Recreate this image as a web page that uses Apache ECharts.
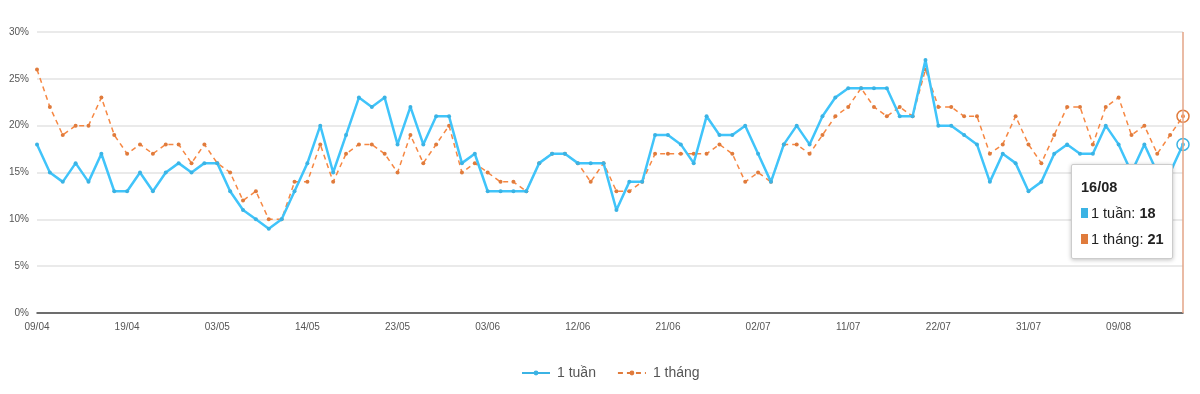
<!DOCTYPE html>
<html>
<head>
<meta charset="utf-8">
<script src="https://cdn.jsdelivr.net/npm/echarts@6/dist/echarts.min.js"></script>
<style>
html,body{margin:0;padding:0;background:#fff;}
#chart{width:1200px;height:394px;}
</style>
</head>
<body>
<div id="chart"></div>
<script>
const dates = [
 '09/04','10/04','11/04','12/04','15/04','16/04','17/04','19/04','22/04','23/04','24/04','25/04','26/04',
 '02/05','03/05','06/05','07/05','08/05','09/05','10/05','13/05','14/05','15/05','16/05','17/05','20/05','21/05','22/05','23/05','24/05','27/05','28/05','29/05','30/05','31/05',
 '03/06','04/06','05/06','06/06','07/06','10/06','11/06','12/06','13/06','14/06','17/06','18/06','19/06','20/06','21/06','24/06','25/06','26/06','27/06','28/06',
 '01/07','02/07','03/07','04/07','05/07','08/07','09/07','10/07','11/07','12/07','15/07','16/07','17/07','18/07','19/07','22/07','23/07','24/07','25/07','26/07','29/07','30/07','31/07',
 '01/08','02/08','05/08','06/08','07/08','08/08','09/08','12/08','13/08','14/08','15/08','16/08'
];
const week = [
 18,15,14,16,14,17,13,13,15,13,15,16,15,16,16,
 13,11,10,9,10,13,16,20,15,19,23,22,23,18,22,
 18,21,21,16,17,13,13,13,13,16,17,17,16,16,
 16,11,14,14,19,19,18,16,21,19,19,20,17,14,18,
 20,18,21,23,24,24,24,24,21,21,27,20,20,19,18,
 14,17,16,13,14,17,18,17,17,20,18,15,18,15,15,18
];
const month = [
 26,22,19,20,20,23,19,17,18,17,18,18,16,18,16,
 15,12,13,10,10,14,14,18,14,17,18,18,17,15,19,
 16,18,20,15,16,15,14,14,13,16,17,17,16,14,
 16,13,13,14,17,17,17,17,17,18,17,14,15,14,18,
 18,17,19,21,22,24,22,21,22,21,26,22,22,21,21,
 17,18,21,18,16,19,22,22,18,22,23,19,20,17,19,21
];
const seriesNames = ['1 tuần','1 tháng'];
const yTicks = [0,5,10,15,20,25,30];

const BLUE = '#3bb3e4';
const ORANGE = '#e07b3c';
const last = dates.length - 1;

const chart = echarts.init(document.getElementById('chart'), null, {renderer:'canvas'});
chart.setOption({
  animation:false,
  textStyle:{fontFamily:'Liberation Sans, Arial, sans-serif'},
  grid:{left:37,right:17,top:32,bottom:81,containLabel:false},
  legend:{
    bottom:9,left:516,
    itemWidth:28,itemHeight:6,itemGap:21,
    textStyle:{fontSize:14,color:'#555',fontFamily:'Liberation Sans, Arial, sans-serif',padding:[0,0,0,2]},
    data:seriesNames
  },
  tooltip:{
    trigger:'axis',
    alwaysShowContent:true,
    backgroundColor:'#fff',
    borderColor:'#ccc',
    borderWidth:1,
    padding:[9,8,6,9],
    extraCssText:'box-shadow:0 1px 4px rgba(0,0,0,0.25);border-radius:2px;',
    position:function(){return [1071,164];},
    axisPointer:{type:'line',lineStyle:{color:'#e3a487',width:1.5,type:'solid'}},
    formatter:function(params){
      let s = '<div style="font-family:Liberation Sans,Arial,sans-serif;color:#222;font-size:14.5px;line-height:26px">';
      s += '<div style="font-weight:bold">'+params[0].name+'</div>';
      params.forEach(function(p){
        s += '<div><span style="display:inline-block;width:7px;height:10px;margin-right:3px;background:'+p.color+'"></span>'+p.seriesName+': <b>'+p.value+'</b></div>';
      });
      s += '</div>';
      return s;
    }
  },
  xAxis:{
    type:'category',
    data:dates,
    boundaryGap:false,
    axisLine:{show:true,lineStyle:{color:'#444',width:1.5}},
    axisTick:{show:false},
    axisLabel:{interval:6,color:'#555',fontSize:10,margin:9},
    splitLine:{show:false}
  },
  yAxis:{
    type:'value',
    min:yTicks[0],max:yTicks[yTicks.length-1],interval:5,
    axisLine:{show:false},
    axisTick:{show:false},
    axisLabel:{color:'#555',fontSize:10,margin:8,formatter:'{value}%'},
    splitLine:{lineStyle:{color:'#e3e3e3',width:1.5}}
  },
  series:[
    {
      name:seriesNames[0],type:'line',data:week,
      color:BLUE,
      symbol:'circle',symbolSize:4,
      lineStyle:{width:2.5,color:BLUE},
      itemStyle:{color:BLUE},
      emphasis:{scale:false},
      clip:false,
      markPoint:{
        symbol:'circle',symbolSize:12,
        itemStyle:{color:'rgba(255,255,255,0)',borderColor:BLUE,borderWidth:1.5},
        label:{show:false},
        data:[{coord:[dates[last],week[last]]}]
      },
      z:3
    },
    {
      name:seriesNames[1],type:'line',data:month,
      color:ORANGE,
      symbol:'circle',symbolSize:4,
      lineStyle:{width:1.5,type:[5,4],color:ORANGE},
      itemStyle:{color:ORANGE},
      emphasis:{scale:false},
      clip:false,
      markPoint:{
        symbol:'circle',symbolSize:12,
        itemStyle:{color:'rgba(255,255,255,0)',borderColor:ORANGE,borderWidth:1.5},
        label:{show:false},
        data:[{coord:[dates[last],month[last]]}]
      },
      z:2
    }
  ]
});
setTimeout(function(){
  chart.dispatchAction({type:'showTip',seriesIndex:0,dataIndex:last});
},50);
</script>
</body>
</html>
